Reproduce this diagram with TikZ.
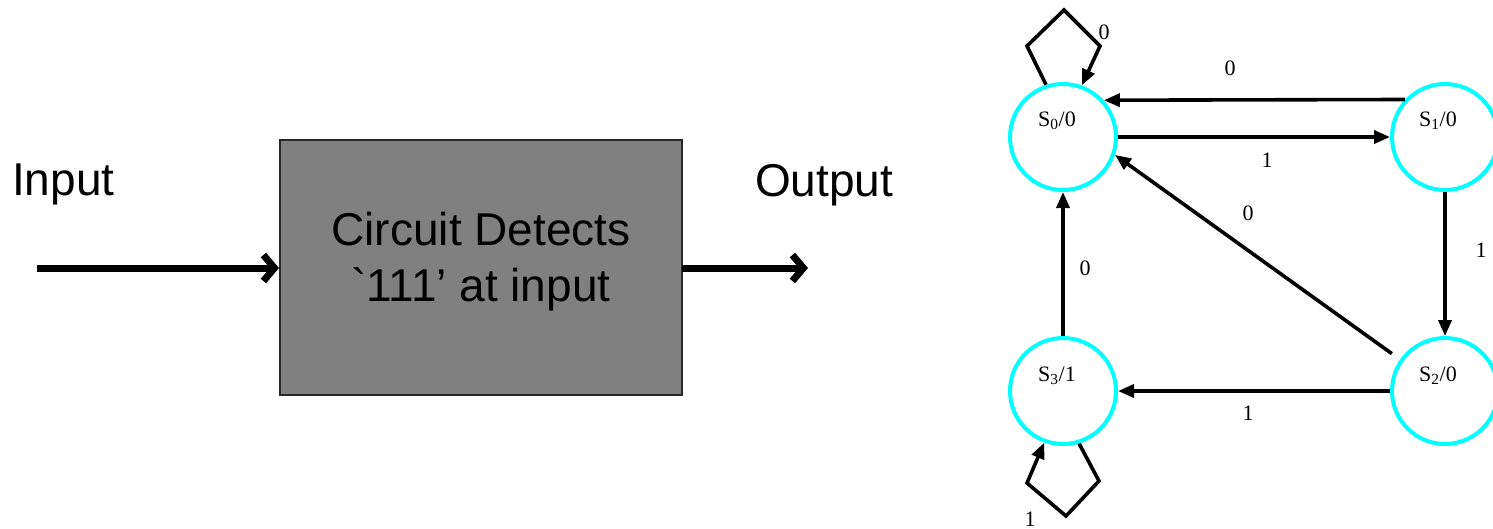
\documentclass[tikz,border=0pt]{standalone}
\usepackage{fontspec}
\setmainfont{Liberation Serif}
\newfontfamily\arialfont{Liberation Sans}
\usetikzlibrary{arrows.meta}
\definecolor{ringcyan}{RGB}{0,255,255}
\definecolor{boxgray}{RGB}{128,128,128}
\definecolor{boxedge}{RGB}{40,40,40}

\begin{document}
\begin{tikzpicture}[x=1pt,y=-1pt,
  bigtext/.style={font=\arialfont\fontsize{46}{56}\selectfont, inner sep=0pt},
  flow/.style={line width=7pt, -{Straight Barb[length=11pt,width=26pt,line width=7pt]}},
  state/.style={circle, draw=ringcyan, line width=4pt, minimum size=106pt, inner sep=0pt},
  slab/.style={font=\fontsize{22}{24}\selectfont, inner sep=0pt},
  elab/.style={font=\fontsize{22}{24}\selectfont, inner sep=0pt},
  tr/.style={line width=3.6pt, -{Triangle[length=16pt,width=13pt]}}
]
\useasboundingbox (0,0) rectangle (1493,528);

% ---- block diagram ----
\node[draw=boxedge, line width=2pt, fill=boxgray, minimum width=402pt, minimum height=255pt, inner sep=0pt] (box) at (481,267.5) {};
\node[bigtext, align=center] (boxtext) at (481,262) {Circuit Detects\\`111’ at input};
\node[bigtext, anchor=base west] (inlab) at (12,195) {Input};
\node[bigtext, anchor=base west] (outlab) at (755,196) {Output};
\coordinate (src) at (37,268);
\coordinate (dst) at (808,268);
\draw[flow] (src) -- (box.west |- src);
\draw[flow, shorten <=-1pt] (box.east |- dst) -- (dst);

% ---- state diagram ----
\node[state] (s0) at (1063,137) {};
\node[state] (s1) at (1445,137) {};
\node[state] (s2) at (1445,391) {};
\node[state] (s3) at (1063,391) {};
\node[slab] (s0t) at (1057,121) {S\textsubscript{0}/0};
\node[slab] (s1t) at (1438,121) {S\textsubscript{1}/0};
\node[slab] (s2t) at (1438,376) {S\textsubscript{2}/0};
\node[slab] (s3t) at (1057,376) {S\textsubscript{3}/1};

% transitions
\draw[tr] (s1.137.7) -- (s0.42.3);
\draw[tr] (s0) -- (s1);
\draw[tr] (s1) -- (s2);
\draw[tr] (s2) -- (s3);
\draw[tr] (s3) -- (s0);
\draw[tr, shorten <=10pt] (s2.145) -- (s0.-19);

% self loops
\draw[tr, line join=miter] (s0.108) -- (1027,46) -- (1064,10) -- (1100,46) -- (s0.70);
\draw[tr, line join=miter] (s3.-73) -- (1099,481) -- (1066,516) -- (1027,483) -- (s3.-110);

% transition labels
\node[elab] (l10) at (1230,68) {0};
\node[elab] (l01) at (1267,160) {1};
\node[elab] (l20) at (1248,213) {0};
\node[elab] (l12) at (1481,250) {1};
\node[elab] (l23) at (1248,413) {1};
\node[elab] (l30) at (1085,268) {0};
\node[elab] (l00) at (1104,32) {0};
\node[elab] (l33) at (1030,519) {1};
\end{tikzpicture}
\end{document}
